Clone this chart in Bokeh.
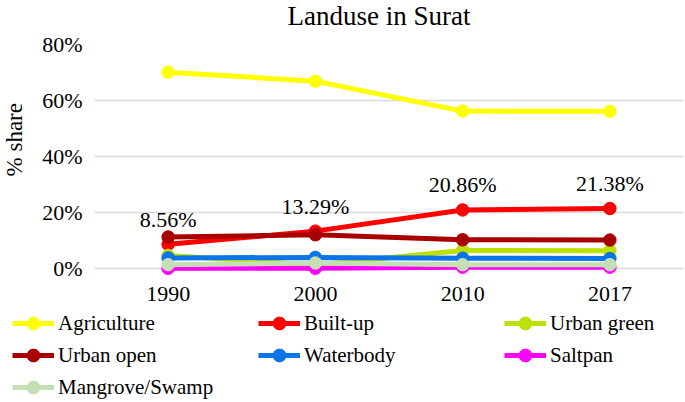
import math
from bokeh.plotting import figure
from bokeh.layouts import column, row
from bokeh.models import (FactorRange, Range1d, FixedTicker, Legend, LegendItem, ColumnDataSource)
from bokeh.core.properties import value
from bokeh.embed import file_html
from bokeh.resources import INLINE

years = ["1990", "2000", "2010", "2017"]
agriculture = [70.1, 66.9, 56.2, 56.1]
built_up = [8.56, 13.29, 20.86, 21.38]
urban_green = [4.6, 1.2, 6.4, 6.3]
urban_open = [11.2, 12.0, 10.2, 10.1]
waterbody = [3.7, 3.9, 3.6, 3.5]
saltpan = [0.0, 0.0, 0.4, 0.4]
mangrove = [1.3, 1.9, 1.3, 1.3]
built_up_labels = ["8.56%", "13.29%", "20.86%", "21.38%"]
y_ticks = [0, 20, 40, 60, 80]
y_tick_labels = ["0%", "20%", "40%", "60%", "80%"]

series = [
    ("Agriculture", agriculture, "#FFFF00"),
    ("Built-up", built_up, "#FF0000"),
    ("Urban green", urban_green, "#BCE000"),
    ("Urban open", urban_open, "#A80000"),
    ("Waterbody", waterbody, "#0A74E8"),
    ("Saltpan", saltpan, "#FF00FF"),
    ("Mangrove/Swamp", mangrove, "#C5DFB4"),
]

FONT = "Liberation Serif"
W = 685
TITLE_H = 30
MID_H = 280
LEG_H = 92
YLAB_W = 30


def bare(fig):
    fig.outline_line_color = None
    fig.xaxis.visible = False
    fig.yaxis.visible = False
    fig.xgrid.visible = False
    fig.ygrid.visible = False
    return fig


def strip(w, h):
    return bare(figure(width=w, height=h, x_range=Range1d(0, w), y_range=Range1d(0, h),
                       output_backend="svg", toolbar_location=None, title=None,
                       min_border_left=0, min_border_right=0, min_border_top=0, min_border_bottom=0))


# chart title strip
tfig = strip(W, TITLE_H)
tfig.text(x=[378.5], y=[TITLE_H - 15], text=["Landuse in Surat"], text_font=value(FONT),
          text_font_size="27px", text_align="center", text_baseline="middle", text_color="#000000")

# y-axis title column
ylab = strip(YLAB_W, MID_H)
ylab.text(x=[14], y=[MID_H - (143.5 - TITLE_H)], text=["% share"], angle=math.pi / 2,
          text_font=value(FONT), text_font_size="23px", text_align="center",
          text_baseline="middle", text_color="#000000")

p = figure(width=W - YLAB_W, height=MID_H, x_range=FactorRange(factors=years),
           y_range=Range1d(-4, 80), output_backend="svg", toolbar_location=None, title=None,
           min_border_left=94 - YLAB_W, min_border_right=2, min_border_top=44 - TITLE_H,
           min_border_bottom=MID_H + TITLE_H - 279)
p.outline_line_color = None
p.xgrid.grid_line_color = None
p.ygrid.grid_line_color = "#D9D9D9"
p.ygrid.grid_line_width = 1.3
p.yaxis.ticker = FixedTicker(ticks=y_ticks)
p.yaxis.major_label_overrides = {t: l for t, l in zip(y_ticks, y_tick_labels)}
for ax in (p.xaxis[0], p.yaxis[0]):
    ax.axis_line_color = None
    ax.major_tick_line_color = None
    ax.minor_tick_line_color = None
    ax.major_tick_out = 0
    ax.major_tick_in = 0
    ax.major_label_text_font = FONT
    ax.major_label_text_font_size = "22px"
    ax.major_label_text_color = "#000000"
p.yaxis.major_label_standoff = 12
p.xaxis.major_label_standoff = 7

for name, vals, color in series:
    src = ColumnDataSource(dict(x=years, y=vals))
    p.line("x", "y", source=src, line_color=color, line_width=5)
    p.scatter("x", "y", source=src, size=12.5, fill_color=color, line_color=color)

lab_src = ColumnDataSource(dict(x=years, y=built_up, t=built_up_labels))
p.text("x", "y", text="t", source=lab_src, y_offset=-25, text_align="center",
       text_baseline="middle", text_font=value(FONT), text_font_size="22px", text_color="#000000")

# legend strip (swatch renderers sit outside the visible range; only their legend glyphs show)
leg = strip(W, LEG_H)
items = []
for name, vals, color in series:
    swatch = ColumnDataSource(dict(x=[-100], y=[-100]))
    lr = leg.line("x", "y", source=swatch, line_color=color, line_width=5)
    sr = leg.scatter("x", "y", source=swatch, size=12.5, fill_color=color, line_color=color)
    items.append(LegendItem(label=name, renderers=[lr, sr]))
legend = Legend(items=items, location=(12, -1), ncols=3, orientation="horizontal",
                label_text_font=FONT, label_text_font_size="21px", label_text_color="#000000",
                glyph_width=42, glyph_height=32, label_height=32, label_width=200,
                label_standoff=4, spacing=0, padding=0, margin=0,
                border_line_color=None, background_fill_alpha=0)
leg.add_layout(legend, "center")

layout = column(tfig, row(ylab, p, spacing=0), leg, spacing=0)
open("out.html", "w").write(file_html(layout, INLINE))
